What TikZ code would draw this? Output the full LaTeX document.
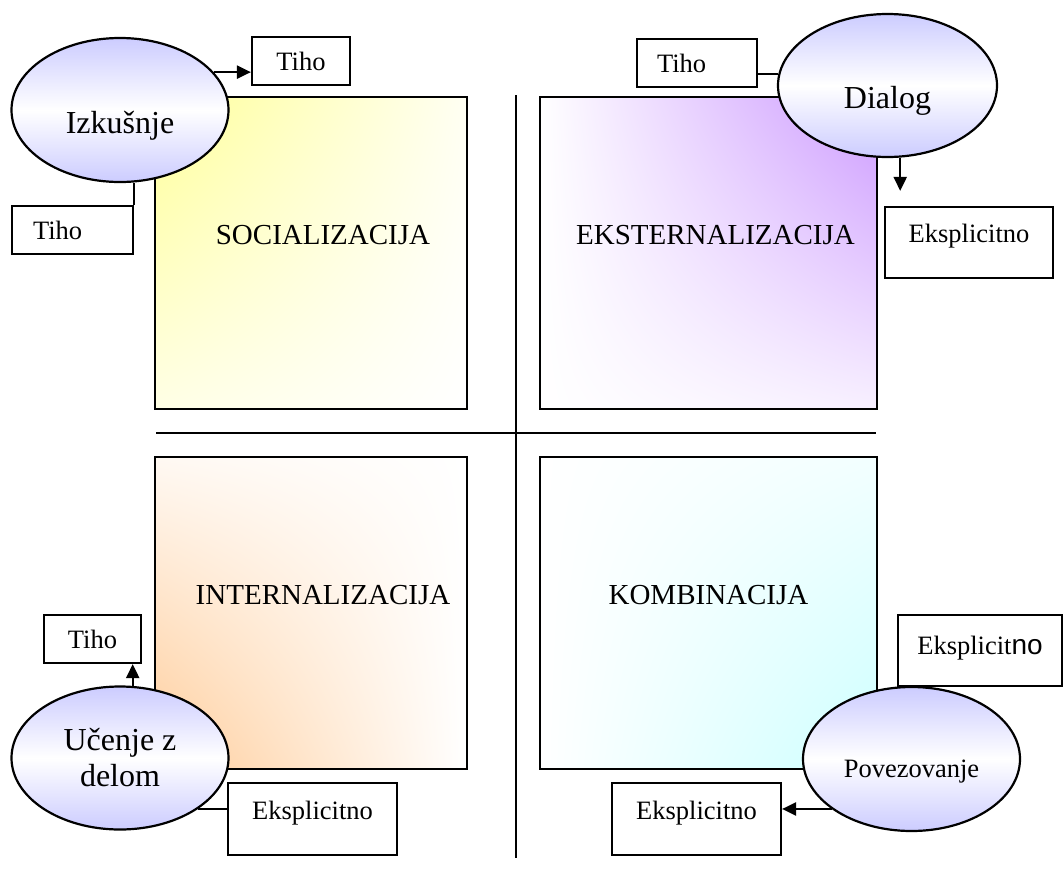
\documentclass[tikz,border=0pt]{standalone}
\usepackage{fontspec}
\setmainfont{Liberation Serif}
\newfontfamily\arialfont{Liberation Sans}
\usetikzlibrary{arrows.meta,shapes.geometric,shadings,positioning}
\definecolor{lav}{HTML}{CCCCFF}
\definecolor{yel}{HTML}{FFFF99}
\definecolor{pur}{HTML}{CC99FF}
\definecolor{ora}{HTML}{FFCC99}
\definecolor{cya}{HTML}{CCFFFF}

\begin{document}
\begin{tikzpicture}[x=1pt, y=-1pt]
  \tikzstyle{quad} = [draw, line width=2.2pt, rectangle, minimum width=312pt, minimum height=312pt, inner sep=0pt]
  \tikzstyle{title} = [font={\fontsize{29}{34}\selectfont}]
  \tikzstyle{bubble} = [draw, line width=2.2pt, ellipse, inner sep=0pt, top color=lav, bottom color=lav, middle color=white, minimum width=217pt, minimum height=144pt, font={\fontsize{32}{36}\selectfont}]
  \tikzstyle{tag} = [draw, line width=2.2pt, fill=white, rectangle, minimum height=48pt, inner sep=0pt, font={\fontsize{26.5}{30}\selectfont}]
  \tikzstyle{bigtag} = [tag, minimum height=72pt, minimum width=169pt, text depth=18pt]
  \tikzstyle{link} = [line width=2.2pt]
  \tikzstyle{arr} = [link, -{Triangle[length=14pt, width=13pt]}]

  \fill[white] (0,0) rectangle (1063,876);
  \useasboundingbox (0,0) rectangle (1063,876);

  % four quadrants
  \node[quad, upper left=yel, upper right=yel!12!white, lower left=yel!25!white, lower right=white] (soc) at (311,253) {};
  \node[quad, minimum width=337pt, upper left=white, upper right=pur, lower left=white, lower right=pur!15!white] (eks) at (708.5,253) {};
  \node[quad, upper left=ora!12!white, upper right=white, lower left=ora, lower right=white] (int) at (311,613) {};
  \node[quad, minimum width=337pt, upper left=white, upper right=cya!25!white, lower left=white, lower right=cya] (kom) at (708.5,613) {};

  \node[title] (soct) at ([xshift=12pt, yshift=18pt]soc.center) {SOCIALIZACIJA};
  \node[title] (ekst) at ([xshift=7pt, yshift=18pt]eks.center) {EKSTERNALIZACIJA};
  \node[title] (intt) at ([xshift=12pt, yshift=18pt]int.center) {INTERNALIZACIJA};
  \node[title] (komt) at ([yshift=18pt]kom.center) {KOMBINACIJA};

  % axes
  \draw[link] (516,95) -- (516,858);
  \draw[link] (156,433) -- (876,433);

  % knowledge labels
  \node[tag, minimum width=98pt] (tiho1) at (301,61) {Tiho};
  \node[tag, text width=79pt, inner xsep=21pt, align=left] (tiho2) at (72.5,230) {Tiho};
  \node[tag, text width=80pt, inner xsep=20pt, align=left] (tiho3) at (697,63) {Tiho};
  \node[tag, minimum width=97pt] (tiho4) at (92.5,639) {Tiho};
  \node[bigtag, minimum width=168pt, minimum height=71pt] (eks1) at (969,242.5) {Eksplicitno};
  \node[bigtag] (eks2) at (312.5,819) {Eksplicitno};
  \node[bigtag, minimum width=164pt, minimum height=71pt, text depth=10pt] (eks3) at (980,650.5) {Eksplicit{\arialfont\fontsize{28}{30}\selectfont no}};
  \node[bigtag] (eks4) at (696.5,819) {Eksplicitno};

  % activities
  \node[bubble, text height=46pt, text depth=0pt] (izk) at (120,110) {Izkušnje};
  \node[bubble, minimum width=219pt, minimum height=143pt, text height=45pt, text depth=0pt] (dia) at (887.5,85.5) {Dialog};
  \node[bubble, minimum height=143pt, align=center] (uce) at (120,758) {Učenje z\\delom};
  \node[bubble, font={\fontsize{26.5}{30}\selectfont}, text height=36pt, text depth=0pt] (pov) at (911.5,759) {Povezovanje};

  \draw[arr] (izk.22) -- (izk.22 -| tiho1.west);
  \draw[link] (izk.south -| tiho2.north east) -- (tiho2.north east);
  \draw[link] (dia.174) -- (dia.174 -| tiho3.east);
  \draw[arr, shorten >=15pt] (dia.-80) -- (dia.-80 |- eks1.north);
  \draw[arr] (uce.80) -- (uce.80 |- tiho4.south);
  \draw[link] (uce.-33) -- (uce.-33 -| eks2.west);
  \draw[arr] (pov.212) -- (pov.212 -| eks4.east);
\end{tikzpicture}
\end{document}
